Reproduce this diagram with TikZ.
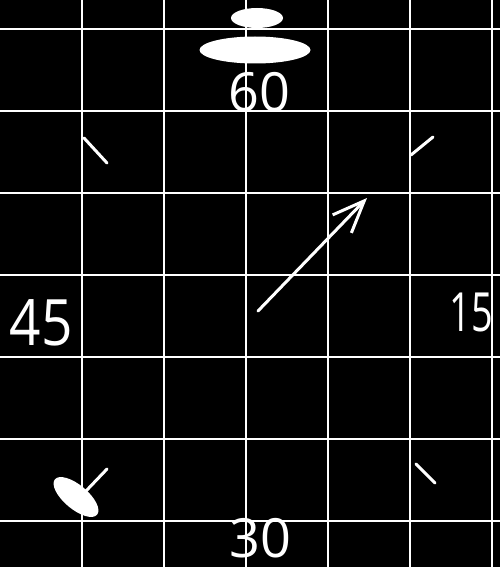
\documentclass[tikz,border=0pt]{standalone}
\usepackage{fontspec}
\setmainfont{Open Sans}
\usetikzlibrary{arrows.meta,shapes.geometric}
\begin{document}
\begin{tikzpicture}[x=1pt,y=-1pt,
  gridline/.style={white,line width=2.6pt},
  chalk/.style={white,line width=3pt,line cap=round},
  blob/.style={ellipse,fill=white,draw=none,inner sep=0pt},
  numlabel/.style={text=white,inner sep=0pt,font=\fontsize{54}{54}\selectfont}]
\fill[black] (0,0) rectangle (500,567);
\useasboundingbox (0,0) rectangle (500,567);
% grid
\foreach \gx in {82,164,246,328,410,492}{
  \draw[gridline] (\gx,0) -- (\gx,567);}
\foreach \gy in {29,111,193,275,357,439,521}{
  \draw[gridline] (0,\gy) -- (500,\gy);}
% top blobs
\node[blob,minimum width=52pt,minimum height=20pt] (topsmall) at (257,18) {};
\node[blob,minimum width=111pt,minimum height=27pt] (topbig) at (255,50) {};
% labels
\node[numlabel,anchor=base] (l60) at (259,112) {60};
\node[numlabel,anchor=base] (l30) at (260,557) {30};
\node[numlabel,anchor=base,font=\fontsize{64}{64}\selectfont] (l45) at (41,345) {\scalebox{0.86}[1]{45}};
\node[numlabel,anchor=base east,font=\fontsize{54}{54}\selectfont] (l15) at (493,331) {\scalebox{0.7}[1]{15}};
% ticks
\coordinate (ulA) at (84,138); \coordinate (ulB) at (107,163);
\coordinate (urA) at (433,137); \coordinate (urB) at (411,155);
\coordinate (lrA) at (416,464); \coordinate (lrB) at (435,483);
\coordinate (llA) at (107,469); \coordinate (llB) at (86,491);
\draw[chalk] (ulA) -- (ulB);
\draw[chalk] (urA) -- (urB);
\draw[chalk] (lrA) -- (lrB);
\draw[chalk] (llA) -- (llB);
% lower-left blob
\node[blob,minimum width=55pt,minimum height=24pt,rotate=-40] (llblob) at (76,497) {};
% hand
\coordinate (hbase) at (258,311);
\coordinate (htip) at (367,198);
\draw[chalk,-{Straight Barb[length=32pt,width=26pt,line width=3pt]}] (hbase) -- (htip);
\end{tikzpicture}
\end{document}
